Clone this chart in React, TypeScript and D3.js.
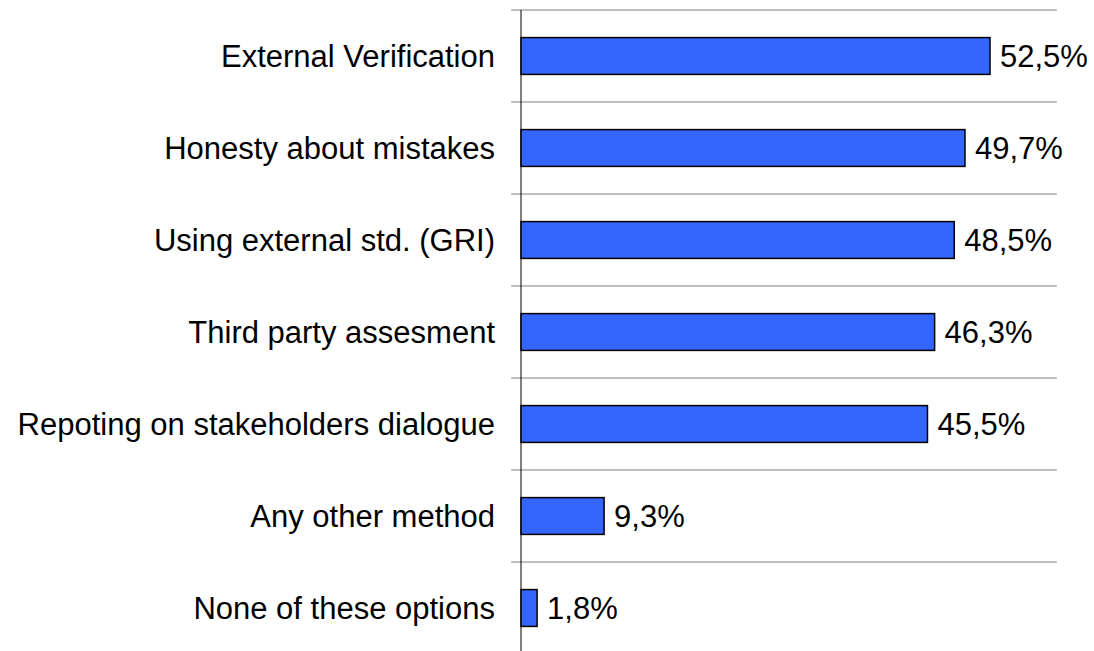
import React from "react";
import * as d3 from "d3";

const categories = [
  "External Verification",
  "Honesty about mistakes",
  "Using external std. (GRI)",
  "Third party assesment",
  "Repoting on stakeholders dialogue",
  "Any other method",
  "None of these options",
];
const values = [52.5, 49.7, 48.5, 46.3, 45.5, 9.3, 1.8];
const xDomainMax = 60;

export default function App() {
  const W = 1094, H = 651;
  const left = 521, right = 1057, top = 10, bottom = 654;
  const x = d3.scaleLinear().domain([0, xDomainMax]).range([left, right]);
  const y = d3.scaleBand<string>().domain(categories).range([top, bottom]).paddingInner(0.6).paddingOuter(0.3);
  const step = y.step();
  const fmt = (v: number) => v.toFixed(1).replace(".", ",") + "%";
  const font = "'Liberation Sans', Arial, sans-serif";
  return (
    <svg width={W} height={H} style={{ position: "absolute", left: 0, top: 0 }}>
      <rect width={W} height={H} fill="#fff" />
      {d3.range(categories.length + 1).map((i) => (
        <line key={"g" + i} x1={511} x2={right} y1={top + i * step} y2={top + i * step} stroke="#808080" strokeWidth={1.2} />
      ))}
      <line x1={left} x2={left} y1={top} y2={bottom} stroke="#000" strokeWidth={1} />
      {categories.map((c, i) => (
        <g key={c}>
          <rect x={x(0)} y={y(c)!} width={x(values[i]) - x(0)} height={y.bandwidth()} fill="#3366FF" stroke="#000" strokeWidth={1.5} />
          <text x={left - 26} y={y(c)! + y.bandwidth() / 2} dy="0.35em" textAnchor="end" fontFamily={font} fontSize={31} fill="#000">{c}</text>
          <text x={x(values[i]) + 10} y={y(c)! + y.bandwidth() / 2} dy="0.35em" textAnchor="start" fontFamily={font} fontSize={31} fill="#000">{fmt(values[i])}</text>
        </g>
      ))}
    </svg>
  );
}
